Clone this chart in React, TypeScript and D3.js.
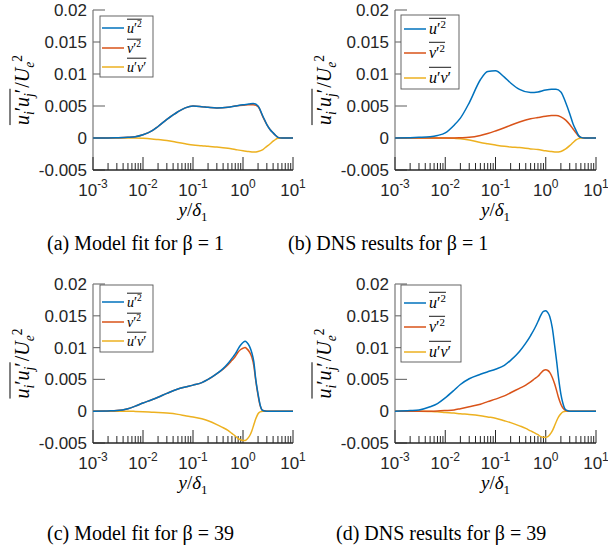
import React, { useEffect, useRef } from "react";
import * as d3 from "d3";

// ---------- data ----------
const X_TOP = [0.001, 0.002, 0.003, 0.005, 0.007, 0.01, 0.015, 0.02, 0.03, 0.05, 0.07, 0.1, 0.15, 0.2, 0.3, 0.5, 0.7, 1, 1.3, 1.6, 2, 2.5, 3, 3.5, 4, 4.5, 5, 6, 10];
const A_UU = [0, 0, 0.00003, 0.0001, 0.0002, 0.0005, 0.0011, 0.0018, 0.0029, 0.0041, 0.0047, 0.005, 0.0049, 0.0048, 0.0047, 0.0048, 0.005, 0.0052, 0.0053, 0.0054, 0.005, 0.0034, 0.0021, 0.0013, 0.0008, 0.0004, 0.0001, 0, 0];
const A_VV = [0, 0, 0.00003, 0.0001, 0.0002, 0.0005, 0.0011, 0.0018, 0.0029, 0.0041, 0.0047, 0.005, 0.0049, 0.0048, 0.0047, 0.0048, 0.005, 0.0051, 0.0052, 0.0052, 0.0049, 0.0033, 0.0021, 0.0013, 0.0008, 0.0004, 0.0001, 0, 0];
const A_UV = [0, 0, 0, 0, 0, -0.00005, -0.00015, -0.00025, -0.0004, -0.0007, -0.0009, -0.0011, -0.0012, -0.0013, -0.0014, -0.0016, -0.0018, -0.002, -0.0021, -0.0022, -0.0021, -0.0018, -0.0013, -0.0009, -0.0005, -0.0002, -0.00005, 0, 0];

const B_UU = [0, 0.00005, 0.0001, 0.0002, 0.0004, 0.0008, 0.002, 0.0031, 0.0055, 0.0091, 0.0104, 0.0105, 0.0095, 0.0086, 0.0076, 0.0071, 0.0072, 0.0075, 0.0076, 0.0076, 0.0072, 0.0055, 0.0038, 0.0022, 0.0012, 0.0004, 0.0001, 0, 0];
const B_VV = [0, 0, 0, 0, 0, 0, 0, 0.00003, 0.0001, 0.0004, 0.0007, 0.0011, 0.0016, 0.002, 0.0025, 0.003, 0.0032, 0.0034, 0.0035, 0.0035, 0.0033, 0.0028, 0.0021, 0.0014, 0.0008, 0.0003, 0.0001, 0, 0];
const B_UV = [0, 0, 0, 0, 0, 0, -0.00005, -0.0001, -0.0003, -0.0007, -0.0009, -0.0011, -0.0013, -0.0014, -0.0015, -0.0017, -0.0018, -0.002, -0.0021, -0.0022, -0.0021, -0.0017, -0.0012, -0.0007, -0.0003, -0.0001, 0, 0, 0];

const X_BOT = [0.001, 0.002, 0.003, 0.005, 0.007, 0.01, 0.015, 0.02, 0.03, 0.05, 0.07, 0.1, 0.15, 0.2, 0.3, 0.4, 0.5, 0.6, 0.7, 0.8, 0.9, 1, 1.1, 1.2, 1.35, 1.5, 1.65, 1.8, 2, 2.2, 2.5, 3, 10];
const C_UU = [0, 0.00005, 0.0001, 0.0004, 0.0008, 0.0013, 0.0018, 0.0022, 0.0028, 0.0035, 0.0038, 0.0041, 0.0045, 0.005, 0.0059, 0.0067, 0.0075, 0.0083, 0.009, 0.0098, 0.0104, 0.0108, 0.011, 0.0108, 0.0102, 0.0092, 0.0077, 0.005, 0.0027, 0.001, 0.0001, 0, 0];
const C_VV = [0, 0.00005, 0.0001, 0.0004, 0.0008, 0.0013, 0.0018, 0.0022, 0.0028, 0.0035, 0.0038, 0.0041, 0.0045, 0.005, 0.0059, 0.0066, 0.0073, 0.008, 0.0086, 0.0093, 0.0097, 0.0099, 0.01, 0.0098, 0.0093, 0.0085, 0.0071, 0.0048, 0.0025, 0.0009, 0.0001, 0, 0];
const C_UV = [0, 0, 0, 0, -0.00003, -0.00008, -0.00015, -0.0002, -0.0003, -0.0005, -0.0007, -0.0009, -0.0012, -0.0015, -0.0021, -0.0026, -0.003, -0.0035, -0.0039, -0.0043, -0.0045, -0.0046, -0.0046, -0.0044, -0.0039, -0.0031, -0.0021, -0.0012, -0.0004, -0.0001, 0, 0, 0];

const D_UU = [0, 0.0001, 0.0002, 0.0007, 0.0012, 0.0021, 0.0033, 0.0042, 0.0051, 0.0058, 0.0062, 0.0066, 0.0072, 0.008, 0.0094, 0.0107, 0.0119, 0.013, 0.0141, 0.0151, 0.0157, 0.0158, 0.0155, 0.0149, 0.0131, 0.0104, 0.0078, 0.0052, 0.0027, 0.0012, 0.0002, 0, 0];
const D_VV = [0, 0, 0, 0, 0.00003, 0.0001, 0.0002, 0.0004, 0.0007, 0.0011, 0.0015, 0.0019, 0.0024, 0.0029, 0.0036, 0.0041, 0.0046, 0.0051, 0.0055, 0.006, 0.0064, 0.0065, 0.0064, 0.0061, 0.0053, 0.0043, 0.0032, 0.0021, 0.0011, 0.0005, 0.0001, 0, 0];
const D_UV = [0, 0, 0, -0.00005, -0.0001, -0.0002, -0.0003, -0.0004, -0.0005, -0.0007, -0.0009, -0.0011, -0.0015, -0.0018, -0.0023, -0.0027, -0.0031, -0.0034, -0.0037, -0.004, -0.0041, -0.0041, -0.004, -0.0037, -0.0031, -0.0023, -0.0015, -0.0009, -0.0004, -0.0001, 0, 0, 0];

const X_TICKS = [1e-3, 1e-2, 1e-1, 1, 10];
const X_TICK_EXP = ["-3", "-2", "-1", "0", "1"];
const Y_TICKS = [-0.005, 0, 0.005, 0.01, 0.015, 0.02];
const Y_TICK_LABELS = ["-0.005", "0", "0.005", "0.01", "0.015", "0.02"];
const CAPTIONS = ["(a) Model fit for β = 1", "(b) DNS results for β = 1", "(c) Model fit for β = 39", "(d) DNS results for β = 39"];
const SERIES_COLORS = ["#0072BD", "#D95319", "#EDB120"];

// [text, italic/roman, position: 0 base, 1 superscript, -1 subscript]
type Part = [string, "i" | "r", number];
const LEGEND_PARTS: Part[][] = [
  [["u", "i", 0], ["′", "r", 0], ["2", "r", 1]],
  [["v", "i", 0], ["′", "r", 0], ["2", "r", 1]],
  [["u", "i", 0], ["′", "r", 0], ["v", "i", 0], ["′", "r", 0]],
];
const YLABEL_LEFT: Part[] = [["u", "i", 0], ["i", "i", -1], ["′", "r", 0], ["u", "i", 0], ["j", "i", -1], ["′", "r", 0]];
const YLABEL_RIGHT: Part[] = [["/", "r", 0], ["U", "i", 0], ["e", "i", -1], ["2", "r", 1]];
const XLABEL: Part[] = [["y", "i", 0], ["/", "r", 0], ["δ", "i", 0], ["1", "r", -1]];

const PANELS = [
  { xs: X_TOP, series: [A_UU, A_VV, A_UV], x0: 93, x1: 293, y0: 10, y1: 170, leg: { x: 100, y: 16, w: 53, h: 61, lx: 102, ll: 22, fs: 14, ys: [28, 48, 67] }, cap: { x: 47, y: 250 } },
  { xs: X_TOP, series: [B_UU, B_VV, B_UV], x0: 395, x1: 596, y0: 10, y1: 170, leg: { x: 401, y: 15, w: 58, h: 74, lx: 404, ll: 22, fs: 16, ys: [29, 53, 78] }, cap: { x: 288, y: 250 } },
  { xs: X_BOT, series: [C_UU, C_VV, C_UV], x0: 93, x1: 293, y0: 284, y1: 443, leg: { x: 100, y: 285, w: 53, h: 67, lx: 102, ll: 22, fs: 14, ys: [302, 322, 341] }, cap: { x: 47, y: 540 } },
  { xs: X_BOT, series: [D_UU, D_VV, D_UV], x0: 395, x1: 596, y0: 284, y1: 443, leg: { x: 401, y: 285, w: 60, h: 77, lx: 404, ll: 22, fs: 16, ys: [303, 327, 352] }, cap: { x: 336, y: 540 } },
];

const MATH_FONT = "'Liberation Serif', 'Times New Roman', serif";
const SANS = "'Liberation Sans', Arial, Helvetica, sans-serif";
const AX = "#262626";

function appendMath(text: any, parts: Part[], fs: number) {
  let cur = 0;
  parts.forEach(([s, st, pos]) => {
    const target = pos === 1 ? fs * 0.36 : pos === -1 ? -fs * 0.25 : 0;
    const size = pos === 0 ? fs : fs * 0.68;
    text
      .append("tspan")
      .attr("dy", cur - target)
      .attr("font-size", size)
      .attr("font-style", st === "i" ? "italic" : "normal")
      .text(s);
    cur = target;
  });
}

function drawPanel(svg: any, p: any, idx: number) {
  const x = d3.scaleLog().domain([1e-3, 10]).range([p.x0, p.x1]);
  const y = d3.scaleLinear().domain([-0.005, 0.02]).range([p.y1, p.y0]);
  const g = svg.append("g");

  // y axis
  g.append("line").attr("x1", p.x0).attr("x2", p.x0).attr("y1", y(0.02)).attr("y2", y(-0.005)).attr("stroke", "#777").attr("stroke-width", 1.2);
  Y_TICKS.forEach((t, i) => {
    g.append("line").attr("x1", p.x0).attr("x2", p.x0 + 12).attr("y1", y(t)).attr("y2", y(t)).attr("stroke", "#777").attr("stroke-width", 1.2);
    g.append("text").attr("x", p.x0 - 6).attr("y", y(t) + 6).attr("text-anchor", "end").attr("font-family", SANS).attr("font-size", 17).attr("fill", AX).text(Y_TICK_LABELS[i]);
  });

  // x axis
  g.append("line").attr("x1", p.x0).attr("x2", p.x1).attr("y1", p.y1).attr("y2", p.y1).attr("stroke", AX).attr("stroke-width", 1.3);
  for (let e = -3; e < 1; e++) {
    for (let m = 2; m <= 9; m++) {
      const v = m * Math.pow(10, e);
      g.append("line").attr("x1", x(v)).attr("x2", x(v)).attr("y1", p.y1).attr("y2", p.y1 - 7).attr("stroke", AX).attr("stroke-width", 1);
    }
  }
  X_TICKS.forEach((t, i) => {
    g.append("line").attr("x1", x(t)).attr("x2", x(t)).attr("y1", p.y1).attr("y2", p.y1 - 13).attr("stroke", AX).attr("stroke-width", 1);
    const tx = g.append("text").attr("x", x(t)).attr("y", p.y1 + 26).attr("text-anchor", "middle").attr("font-family", SANS).attr("fill", AX);
    tx.append("tspan").attr("font-size", 17).text("10");
    tx.append("tspan").attr("font-size", 12).attr("dy", -8).text(X_TICK_EXP[i]);
  });

  // curves
  const line = d3
    .line<[number, number]>()
    .x((d) => x(d[0]))
    .y((d) => y(d[1]))
    .curve(d3.curveMonotoneX);
  [2, 1, 0].forEach((si) => {
    const vals = p.series[si] as number[];
    const pts = (p.xs as number[]).map((xv, k) => [xv, vals[k]] as [number, number]);
    g.append("path").attr("d", line(pts)).attr("fill", "none").attr("stroke", SERIES_COLORS[si]).attr("stroke-width", 1.5);
  });

  // y label
  const lab = g.append("g").attr("transform", `translate(${p.x0 - 64},${(p.y0 + p.y1) / 2}) rotate(-90)`);
  const inner = lab.append("g");
  const t1 = inner.append("text").attr("x", 0).attr("y", 0).attr("font-family", MATH_FONT).attr("fill", "#000");
  appendMath(t1, YLABEL_LEFT, 20);
  const w1 = (t1.node() as SVGTextElement).getComputedTextLength();
  const t2 = inner.append("text").attr("x", w1 + 1).attr("y", 0).attr("font-family", MATH_FONT).attr("fill", "#000");
  appendMath(t2, YLABEL_RIGHT, 20);
  const w2 = (t2.node() as SVGTextElement).getComputedTextLength();
  inner.append("line").attr("x1", 0).attr("x2", w1).attr("y1", -19).attr("y2", -19).attr("stroke", "#000").attr("stroke-width", 1);
  inner.attr("transform", `translate(${-(w1 + w2 + 1) / 2},0)`);

  // x label
  const xl = g.append("text").attr("x", (p.x0 + p.x1) / 2).attr("y", p.y1 + 46).attr("text-anchor", "middle").attr("font-family", MATH_FONT).attr("fill", "#000");
  appendMath(xl, XLABEL, 19);

  // legend
  const L = p.leg;
  g.append("rect").attr("x", L.x).attr("y", L.y).attr("width", L.w).attr("height", L.h).attr("fill", "#fff").attr("stroke", "#555").attr("stroke-width", 0.9);
  LEGEND_PARTS.forEach((parts, k) => {
    const ly = L.ys[k];
    g.append("line").attr("x1", L.lx).attr("x2", L.lx + L.ll).attr("y1", ly).attr("y2", ly).attr("stroke", SERIES_COLORS[k]).attr("stroke-width", 1.5);
    const base = ly + 4.5;
    const tx = g.append("text").attr("x", L.lx + L.ll + 3).attr("y", base).attr("font-family", MATH_FONT).attr("fill", "#000");
    appendMath(tx, parts, L.fs);
    const w = (tx.node() as SVGTextElement).getComputedTextLength();
    const oy = base - L.fs * 0.95;
    g.append("line").attr("x1", L.lx + L.ll + 3).attr("x2", L.lx + L.ll + 3 + w).attr("y1", oy).attr("y2", oy).attr("stroke", "#000").attr("stroke-width", 0.9);
  });

  // caption
  svg.append("text").attr("x", p.cap.x).attr("y", p.cap.y).attr("font-family", MATH_FONT).attr("font-size", 20).attr("fill", "#000").text(CAPTIONS[idx]);
}

export default function App() {
  const ref = useRef<SVGSVGElement>(null);
  useEffect(() => {
    document.body.style.margin = "0";
    const svg = d3.select(ref.current);
    svg.selectAll("*").remove();
    PANELS.forEach((p, i) => drawPanel(svg, p, i));
  }, []);
  return <svg ref={ref} width={608} height={551} style={{ display: "block", background: "#fff" }} />;
}
